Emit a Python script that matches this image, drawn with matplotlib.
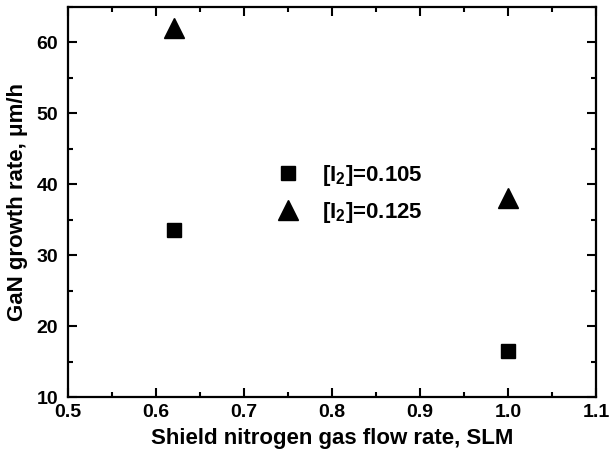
import matplotlib
matplotlib.use("Agg")
import matplotlib.pyplot as plt
from matplotlib.ticker import MultipleLocator

plt.rcParams["font.family"] = ["Liberation Sans", "DejaVu Sans"]
plt.rcParams["font.weight"] = "bold"
plt.rcParams["mathtext.fontset"] = "custom"
plt.rcParams["mathtext.rm"] = "Liberation Sans:bold"
plt.rcParams["mathtext.it"] = "Liberation Sans:bold"
plt.rcParams["mathtext.bf"] = "Liberation Sans:bold"

# shield N2 flow (SLM) vs GaN growth rate (um/h) for two iodine levels
flow = [0.62, 1.0]
rate_i2_105 = [33.5, 16.5]
rate_i2_125 = [62.0, 38.0]

fig = plt.figure(figsize=(6.09, 4.53), dpi=100)
ax = fig.add_axes([0.1117, 0.1236, 0.867, 0.861])

ax.plot(flow, rate_i2_105, "s", color="black", markersize=10, linestyle="none",
        label=r"[I$_2$]=0.105")
ax.plot(flow, rate_i2_125, "^", color="black", markersize=14, linestyle="none",
        label=r"[I$_2$]=0.125")

ax.set_xlim(0.5, 1.1)
ax.set_ylim(10, 65)
ax.xaxis.set_major_locator(MultipleLocator(0.1))
ax.xaxis.set_minor_locator(MultipleLocator(0.05))
ax.yaxis.set_major_locator(MultipleLocator(10))
ax.yaxis.set_minor_locator(MultipleLocator(5))
ax.tick_params(which="both", direction="in", top=True, right=True, width=1.5,
               labelsize=14)
ax.tick_params(axis="x", pad=5)
ax.tick_params(axis="y", pad=7)
ax.tick_params(which="major", length=6.5)
ax.tick_params(which="minor", length=3.5)
for s in ax.spines.values():
    s.set_linewidth(1.6)

ax.set_xlabel("Shield nitrogen gas flow rate, SLM", fontsize=16, fontweight="bold",
              labelpad=5)
ax.set_ylabel("GaN growth rate, \u03bcm/h", fontsize=16, fontweight="bold",
              labelpad=6)

ax.legend(loc="upper left", bbox_to_anchor=(0.396, 0.60), frameon=False,
          fontsize=16, handlelength=1.0, handletextpad=1.0, labelspacing=0.55,
          borderpad=0, borderaxespad=0, numpoints=1)

fig.savefig("out.png", dpi=100)
